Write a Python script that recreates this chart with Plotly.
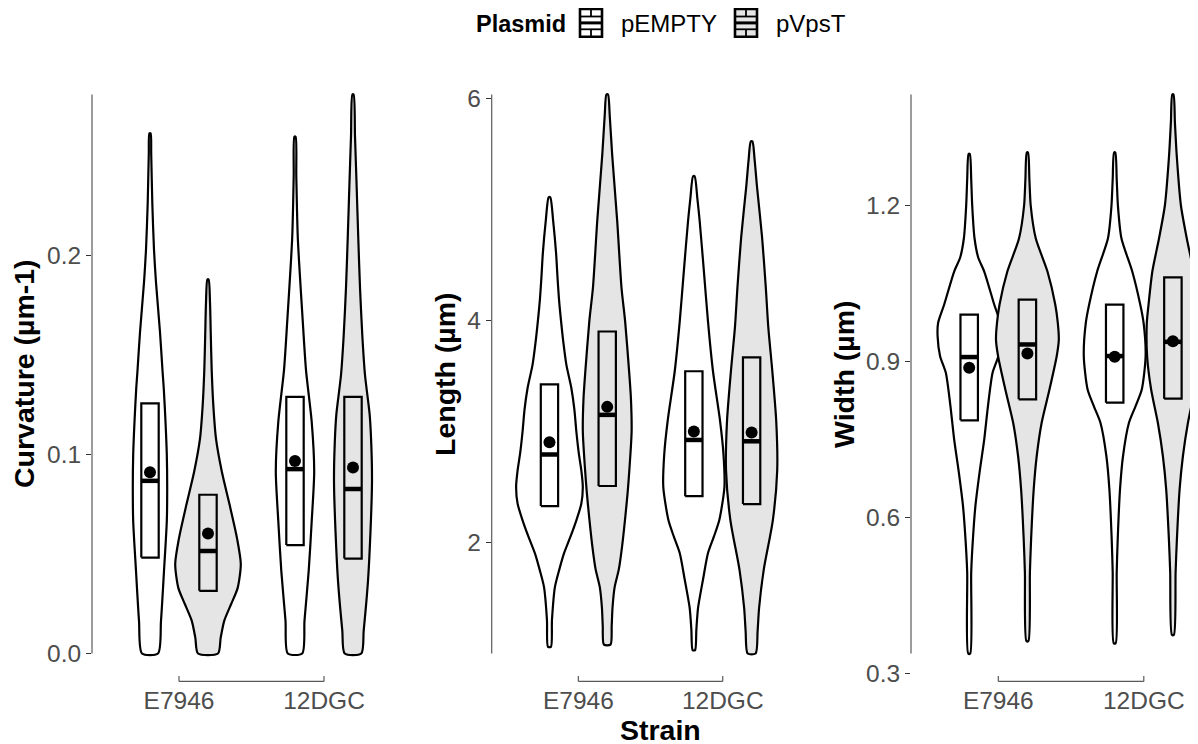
import plotly.graph_objects as go

# ---------------- data ----------------
strains = ["E7946", "12DGC"]
plasmids = ["pEMPTY", "pVpsT"]
# group order: (E7946,pEMPTY), (E7946,pVpsT), (12DGC,pEMPTY), (12DGC,pVpsT)
group_strain = ["E7946", "E7946", "12DGC", "12DGC"]
group_plasmid = ["pEMPTY", "pVpsT", "pEMPTY", "pVpsT"]

# Curvature (um-1)
curv_q1 = [0.0482, 0.0315, 0.0545, 0.0477]
curv_med = [0.0868, 0.0515, 0.0927, 0.0827]
curv_q3 = [0.1257, 0.0798, 0.1290, 0.1290]
curv_mean = [0.0911, 0.0603, 0.0968, 0.0935]
curv_dens_y = [
    [0.0, 0.0165, 0.0415, 0.0665, 0.083, 0.1, 0.1165, 0.133, 0.1415, 0.1615, 0.1865, 0.203, 0.2265, 0.2515, 0.2615],
    [0.0, 0.008, 0.0165, 0.025, 0.033, 0.045, 0.058, 0.075, 0.0915, 0.108, 0.125, 0.1425, 0.16, 0.1765, 0.188],
    [0.0, 0.0165, 0.0415, 0.0665, 0.0915, 0.1165, 0.1425, 0.1675, 0.209, 0.24, 0.2598],
    [0.0, 0.0115, 0.0365, 0.0615, 0.0865, 0.105, 0.12, 0.14, 0.16, 0.184, 0.21, 0.234, 0.26, 0.281],
]
curv_dens = [
    [8, 11, 14, 16.8, 17.2, 16.8, 15.5, 13.8, 12.6, 10, 6, 4, 2.3, 1.2, 0.6],
    [10, 12.7, 16.3, 23.3, 29.7, 32.8, 29, 21.5, 13.8, 8, 5.3, 3.7, 2.8, 2, 0.6],
    [7.2, 9.5, 13.7, 16.7, 19.2, 16.7, 11, 7.7, 2.8, 1.3, 0.6],
    [8.3, 10.7, 15, 17.5, 19, 18.3, 16.7, 12, 9.3, 7, 5.2, 3.7, 2, 0.6],
]

# Length (um)
len_q1 = [2.328, 2.509, 2.417, 2.346]
len_med = [2.793, 3.150, 2.924, 2.912]
len_q3 = [3.424, 3.901, 3.543, 3.668]
len_mean = [2.903, 3.222, 3.000, 2.992]
len_dens_y = [
    [1.06, 1.3, 1.6, 1.76, 1.9, 2.05, 2.2, 2.35, 2.5, 2.65, 2.8, 3.0, 3.2, 3.39, 3.6, 3.8, 3.99, 4.2, 4.4, 4.6, 4.9, 5.11],
    [1.08, 1.25, 1.41, 1.6, 1.76, 1.97, 2.2, 2.45, 2.65, 3.0, 3.3, 3.54, 3.99, 4.3, 4.9, 5.49, 5.85, 6.036],
    [1.03, 1.214, 1.41, 1.667, 1.905, 2.05, 2.2, 2.5, 2.8, 3.096, 3.543, 3.99, 4.452, 4.9, 5.1, 5.30],
    [1.0, 1.2, 1.41, 1.756, 2.2, 2.65, 3.096, 3.543, 3.945, 4.303, 4.75, 5.197, 5.45, 5.614],
]
len_dens = [
    [1.5, 2.5, 5.5, 10, 14.5, 21, 27, 32, 33.5, 32, 29.5, 27, 25, 22, 17, 14, 11.7, 9.5, 8, 6.7, 3.7, 0.8],
    [3.3, 4.5, 5.3, 7.5, 11.7, 15, 17.8, 20.5, 22.2, 24.5, 23.8, 22, 18, 14.3, 10, 5, 2.5, 0.8],
    [1.2, 2.5, 4.2, 9.2, 14.2, 20, 25.5, 30.7, 29.7, 26.3, 19.2, 14.2, 10, 5.8, 3.5, 0.8],
    [4, 6, 7.5, 12.2, 21.3, 25.7, 24.7, 20.8, 16.7, 14.2, 10.5, 5.5, 3, 0.8],
]

# Width (um)
wid_q1 = [0.7867, 0.8270, 0.8207, 0.8284]
wid_med = [0.9084, 0.9326, 0.9103, 0.9377]
wid_q3 = [0.9900, 1.0189, 1.0093, 1.0618]
wid_mean = [0.8878, 0.9153, 0.9090, 0.9390]
wid_dens_y = [
    [0.338, 0.4945, 0.558, 0.622, 0.686, 0.75, 0.814, 0.878, 0.91, 0.9487, 0.974, 1.009, 1.073, 1.1, 1.137, 1.2, 1.25, 1.299],
    [0.362, 0.4945, 0.558, 0.654, 0.718, 0.782, 0.846, 0.91, 0.942, 0.974, 1.009, 1.073, 1.137, 1.2, 1.25, 1.302],
    [0.358, 0.4945, 0.558, 0.654, 0.718, 0.782, 0.814, 0.846, 0.91, 0.974, 1.009, 1.073, 1.137, 1.2, 1.25, 1.302],
    [0.374, 0.4945, 0.558, 0.654, 0.718, 0.782, 0.846, 0.91, 0.974, 1.009, 1.073, 1.137, 1.2, 1.297, 1.36, 1.4135],
]
wid_dens = [
    [1, 2, 3.7, 6.2, 10.3, 15, 18.7, 23.3, 29, 31.5, 31, 25, 15, 9, 5.3, 3, 2, 0.6],
    [1, 2.5, 3.7, 6.3, 9.3, 14.2, 22, 29.2, 31.3, 30.3, 27.8, 20, 8.3, 3.3, 2, 0.6],
    [1, 2, 3, 5.3, 8.3, 14.2, 20.8, 27, 30.8, 28.8, 25.5, 17.5, 6.7, 3.2, 2, 0.6],
    [1, 2.7, 4, 6.7, 10, 15, 21.7, 25.7, 26, 24.3, 20.5, 13.8, 8, 3.8, 2, 0.6],
]

panels = [
    dict(title="Curvature (\u00b5m-1)", q1=curv_q1, med=curv_med, q3=curv_q3, mean=curv_mean,
         dy=curv_dens_y, dw=curv_dens, ticks=[0.0, 0.1, 0.2]),
    dict(title="Length (\u00b5m)", q1=len_q1, med=len_med, q3=len_q3, mean=len_mean,
         dy=len_dens_y, dw=len_dens, ticks=[2, 4, 6]),
    dict(title="Width (\u00b5m)", q1=wid_q1, med=wid_med, q3=wid_q3, mean=wid_mean,
         dy=wid_dens_y, dw=wid_dens, ticks=[0.3, 0.6, 0.9, 1.2]),
]

# ---------------- styling / layout ----------------
W, H = 1198, 744
OFF_X, OFF_Y = 8, 4  # offset of the plot div inside the page
FONT = "Liberation Sans, Arial, sans-serif"
TICK_COL = "#4D4D4D"
AXIS_COL = "#5a5a5a"
FILL = {"pEMPTY": "#FFFFFF", "pVpsT": "#E5E5E5"}
DODGE = 0.2
BOX_HALF = 0.06
DENS_SCALE = 1 / 145.0
LW = 2.2
PANEL_TOP, PANEL_BOT = 63, 682
panel_px = [(92, 411), (491.7, 809.3), (911, W + OFF_X)]
unit_px = [145.0, 144.4, 145.5]


def PX(xs):
    return (xs - OFF_X) / W


def PY(ys):
    return 1 - (ys - OFF_Y) / H


fig = go.Figure()
layout_axes = {}
shapes = []
annotations = []

for i, p in enumerate(panels):
    n = "" if i == 0 else str(i + 1)
    xa, ya = "x" + n, "y" + n
    all_y = [v for arr in p["dy"] for v in arr]
    lo, hi = min(all_y), max(all_y)
    pad = 0.05 * (hi - lo)
    yr = [lo - pad, hi + pad]
    x0px, x1px = panel_px[i]
    xr = [0.4, 0.4 + (x1px - x0px) / unit_px[i]]

    centers = [strains.index(group_strain[g]) + 1 + (-DODGE if group_plasmid[g] == "pEMPTY" else DODGE)
               for g in range(4)]
    for g in range(4):
        cx = centers[g]
        fc = FILL[group_plasmid[g]]
        ys = p["dy"][g]
        ws = [w * DENS_SCALE for w in p["dw"][g]]
        px_ = [cx + w for w in ws] + [cx - w for w in ws[::-1]] + [cx + ws[0]]
        py_ = list(ys) + list(ys[::-1]) + [ys[0]]
        fig.add_trace(go.Scatter(x=px_, y=py_, xaxis=xa, yaxis=ya, mode="lines",
                                 fill="toself", fillcolor=fc,
                                 line=dict(color="black", width=LW, shape="spline", smoothing=0.7),
                                 showlegend=False, hoverinfo="skip"))
    for g in range(4):
        cx = centers[g]
        fc = FILL[group_plasmid[g]]
        q1, q3, md = p["q1"][g], p["q3"][g], p["med"][g]
        fig.add_trace(go.Scatter(
            x=[cx - BOX_HALF, cx + BOX_HALF, cx + BOX_HALF, cx - BOX_HALF, cx - BOX_HALF],
            y=[q1, q1, q3, q3, q1], xaxis=xa, yaxis=ya, mode="lines", fill="toself",
            fillcolor=fc, line=dict(color="black", width=LW), showlegend=False, hoverinfo="skip"))
        fig.add_trace(go.Scatter(x=[cx - BOX_HALF, cx + BOX_HALF], y=[md, md], xaxis=xa, yaxis=ya,
                                 mode="lines", line=dict(color="black", width=4.5),
                                 showlegend=False, hoverinfo="skip"))
    fig.add_trace(go.Scatter(x=centers, y=p["mean"], xaxis=xa, yaxis=ya, mode="markers",
                             marker=dict(color="black", size=12), showlegend=False, hoverinfo="skip"))

    dom_y = [PY(PANEL_BOT), PY(PANEL_TOP)]
    dom_x = [PX(x0px), min(1.0, PX(x1px))]
    layout_axes["xaxis" + n] = dict(domain=dom_x, range=xr, anchor=ya, showgrid=False, zeroline=False,
                                    showline=False, tickvals=[1, 2], ticktext=strains,
                                    ticks="", ticklabelstandoff=2,
                                    tickfont=dict(family=FONT, size=24.5, color=TICK_COL))
    fmt = ".0f" if i == 1 else ".1f"
    layout_axes["yaxis" + n] = dict(domain=dom_y, range=yr, anchor=xa, showgrid=False, zeroline=False,
                                    showline=False, tickvals=p["ticks"], tickformat=fmt,
                                    ticks="outside", ticklen=5, tickwidth=1.2, tickcolor="#333333",
                                    tickfont=dict(family=FONT, size=24.5, color=TICK_COL))
    # capped y-axis line over data range
    shapes.append(dict(type="line", xref=xa + " domain", yref=ya, x0=0, x1=0, y0=lo, y1=hi,
                       line=dict(color=AXIS_COL, width=1.2)))
    # x-axis bracket between categories
    shapes.append(dict(type="line", xref=xa, yref=ya + " domain", x0=1, x1=2, y0=0, y1=0,
                       line=dict(color=AXIS_COL, width=1.2)))
    for xv in (1, 2):
        shapes.append(dict(type="line", xref=xa, yref=ya + " domain", x0=xv, x1=xv, y0=0, y1=0.009,
                           line=dict(color=AXIS_COL, width=1.2)))

# y-axis titles
for xpx, p in zip([24, 445, 844], panels):
    annotations.append(dict(text="<b>%s</b>" % p["title"], xref="paper", yref="paper",
                            x=PX(xpx), y=PY(372.5), textangle=-90, showarrow=False,
                            xanchor="center", yanchor="middle",
                            font=dict(family=FONT, size=28.5, color="black")))
annotations.append(dict(text="<b>Strain</b>", xref="paper", yref="paper", x=PX(660), y=PY(731),
                        showarrow=False, xanchor="center", yanchor="middle",
                        font=dict(family=FONT, size=28.5, color="black")))

# legend (drawn manually)
LEG_Y = 20
annotations.append(dict(text="<b>Plasmid</b>", xref="paper", yref="paper", x=PX(475), y=PY(LEG_Y),
                        showarrow=False, xanchor="left", yanchor="middle", borderpad=0,
                        font=dict(family=FONT, size=23.5, color="black")))
for kx, lab, lx in [(580, "pEMPTY", 620), (735, "pVpsT", 775)]:
    fc = FILL[lab]
    kw, kh = 22, 28
    top, bot = LEG_Y - 1 - kh / 2, LEG_Y - 1 + kh / 2
    x0, x1 = PX(kx), PX(kx + kw)
    y0, y1 = PY(bot), PY(top)
    shapes.append(dict(type="rect", xref="paper", yref="paper", x0=x0, x1=x1, y0=y0, y1=y1,
                       fillcolor=fc, line=dict(color="black", width=2.6)))
    for frac, lw in [(0.27, 1.8), (0.73, 1.8), (0.5, 3.0)]:
        yy = PY(top + frac * kh)
        shapes.append(dict(type="line", xref="paper", yref="paper", x0=x0, x1=x1, y0=yy, y1=yy,
                           line=dict(color="black", width=lw)))
    xm = PX(kx + kw / 2)
    shapes.append(dict(type="line", xref="paper", yref="paper", x0=xm, x1=xm,
                       y0=PY(top), y1=PY(top + 0.27 * kh), line=dict(color="black", width=1.8)))
    shapes.append(dict(type="line", xref="paper", yref="paper", x0=xm, x1=xm,
                       y0=PY(top + 0.73 * kh), y1=PY(bot), line=dict(color="black", width=1.8)))
    annotations.append(dict(text=lab, xref="paper", yref="paper", x=PX(lx), y=PY(LEG_Y),
                            showarrow=False, xanchor="left", yanchor="middle", borderpad=0,
                            font=dict(family=FONT, size=24, color="black")))

fig.update_layout(width=W, height=H, margin=dict(l=0, r=0, t=0, b=0),
                  paper_bgcolor="white", plot_bgcolor="rgba(0,0,0,0)",
                  showlegend=False, shapes=shapes, annotations=annotations, **layout_axes)
fig.write_html("out.html")
